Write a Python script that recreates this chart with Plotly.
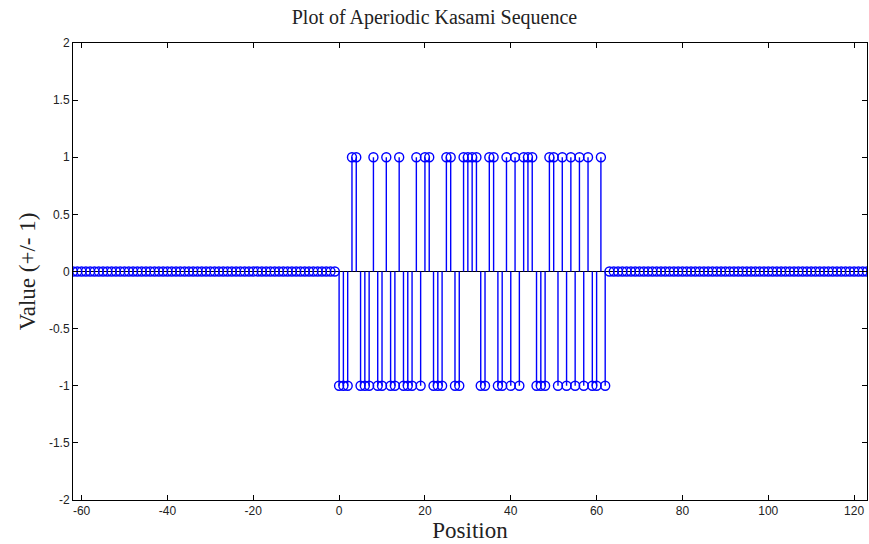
import numpy as np
import plotly.graph_objects as go

# Kasami sequence (length 63), positions 0..62
kasami = [-1, -1, -1, 1, 1, -1, -1, -1, 1, -1,
          -1, 1, -1, -1, 1, -1, -1, -1, 1, -1,
          1, 1, -1, -1, -1, 1, 1, -1, -1, 1,
          1, 1, 1, -1, -1, 1, 1, -1, -1, 1,
          -1, 1, -1, 1, 1, 1, -1, -1, -1, 1,
          1, -1, 1, -1, 1, -1, 1, -1, 1, -1,
          -1, 1, -1]
pad = 62  # zero padding on each side (aperiodic)

x_ticks = [-60, -40, -20, 0, 20, 40, 60, 80, 100, 120]
y_ticks = [-2, -1.5, -1, -0.5, 0, 0.5, 1, 1.5, 2]
y_tick_text = ["-2", "-1.5", "-1", "-0.5", "0", "0.5", "1", "1.5", "2"]

n = len(kasami)
pos = np.arange(-pad, n + pad)
val = np.concatenate([np.zeros(pad), kasami, np.zeros(pad)])

# stem lines: 0 -> value, separated by None
sx, sy = [], []
for p, v in zip(pos, val):
    if v != 0:
        sx += [p, p, None]
        sy += [0, v, None]

blue = "rgb(0,0,255)"
fig = go.Figure()
fig.add_trace(go.Scatter(x=sx, y=sy, mode="lines",
                         line=dict(color=blue, width=1.4),
                         hoverinfo="skip", showlegend=False))
fig.add_trace(go.Scatter(x=pos, y=val, mode="markers",
                         marker=dict(symbol="circle-open", size=9, color=blue,
                                     line=dict(width=1.4, color=blue)),
                         showlegend=False, cliponaxis=True))

serif = "Liberation Serif, Times New Roman, serif"
sans = "Liberation Sans, Arial, sans-serif"
ax_common = dict(showline=True, linecolor="black", linewidth=1, mirror="allticks",
                 ticks="inside", ticklen=5, tickcolor="black", showgrid=False,
                 tickfont=dict(family=sans, size=12, color="#222"))

fig.update_layout(
    width=869, height=544,
    paper_bgcolor="white", plot_bgcolor="white",
    margin=dict(l=73, r=2, t=43, b=44),
    title=dict(text="Plot of Aperiodic Kasami Sequence", x=0.5, xanchor="center",
               xref="container", y=1 - 17 / 544, yanchor="middle", yref="container",
               font=dict(family=serif, size=20, color="#222")),
    xaxis=dict(range=[-62, 123], tickvals=x_ticks,
               ticktext=[str(t) for t in x_ticks],
               title=dict(text="Position", standoff=2,
                          font=dict(family=serif, size=23, color="#222")),
               zeroline=False, **ax_common),
    yaxis=dict(range=[-2, 2], tickvals=y_ticks, ticktext=y_tick_text,
               title=dict(text="Value (+/- 1)", standoff=6,
                          font=dict(family=serif, size=23, color="#222")),
               zeroline=True, zerolinecolor="black", zerolinewidth=1,
               **ax_common),
)

fig.write_html("out.html", config={"displayModeBar": False},
               post_script="document.body.style.margin='0';")
